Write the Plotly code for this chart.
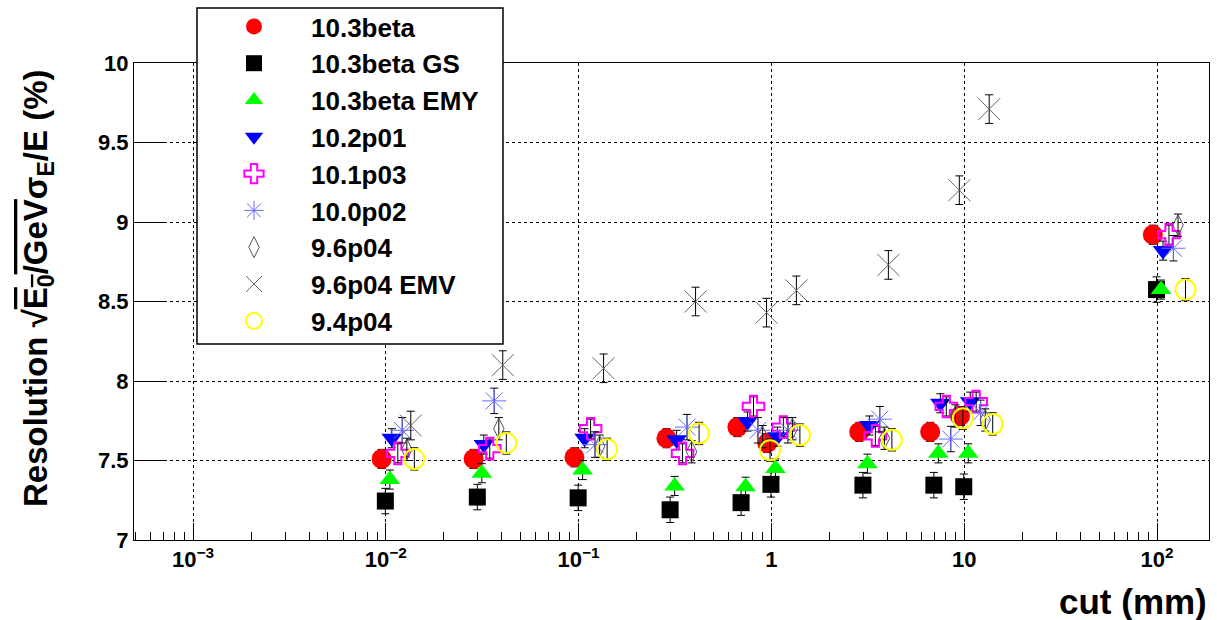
import math
import plotly.graph_objects as go

# ---------------- data ----------------
CUTS = [0.01, 0.03, 0.1, 0.3, 0.7, 1, 3, 7, 10, 100]
CUTS_EMV = [0.01, 0.03, 0.1, 0.3, 0.7, 1, 3, 7, 10]

SERIES_NAMES = ["10.3beta", "10.3beta GS", "10.3beta EMY", "10.2p01", "10.1p03",
                "10.0p02", "9.6p04", "9.6p04 EMV", "9.4p04"]

# horizontal display offsets (multiplicative) used in the original to separate series
X_SHIFT = [0.951, 0.994, 1.049, 1.074, 1.153, 1.216, 1.285, 1.347, 1.405]

res_103beta     = [7.51, 7.51, 7.52, 7.64, 7.71, 7.61, 7.68, 7.68, 7.78, 8.92]
res_103beta_GS  = [7.245, 7.27, 7.265, 7.19, 7.235, 7.35, 7.345, 7.345, 7.335, 8.575]
res_103beta_EMY = [7.38, 7.42, 7.44, 7.34, 7.335, 7.45, 7.48, 7.545, 7.545, 8.575]
res_102p01      = [7.64, 7.60, 7.64, 7.63, 7.745, 7.65, 7.72, 7.86, 7.87, 8.82]
res_101p03      = [7.545, 7.575, 7.70, 7.545, 7.84, 7.71, 7.655, 7.84, 7.87, 8.92]
res_100p02      = [7.69, 7.875, 7.60, 7.71, 7.69, 7.69, 7.76, 7.635, 7.80, 8.835]
res_96p04       = [7.57, 7.70, 7.59, 7.555, 7.65, 7.70, 7.64, 7.78, 7.755, 8.98]
res_96p04_EMV   = [7.72, 8.10, 8.08, 8.50, 8.43, 8.57, 8.73, 9.20, 9.71]
res_94p04       = [7.51, 7.61, 7.57, 7.67, 7.565, 7.66, 7.63, 7.765, 7.73, 8.575]

err_103beta     = [0.06, 0.06, 0.06, 0.06, 0.06, 0.06, 0.06, 0.06, 0.06, 0.06]
err_103beta_GS  = [0.08, 0.08, 0.08, 0.08, 0.08, 0.08, 0.08, 0.08, 0.08, 0.08]
err_103beta_EMY = [0.06, 0.06, 0.06, 0.06, 0.06, 0.06, 0.06, 0.06, 0.06, 0.06]
err_102p01      = [0.06, 0.06, 0.06, 0.06, 0.06, 0.06, 0.06, 0.06, 0.06, 0.06]
err_101p03      = [0.06, 0.06, 0.06, 0.06, 0.06, 0.06, 0.06, 0.06, 0.06, 0.06]
err_100p02      = [0.08, 0.08, 0.08, 0.08, 0.08, 0.08, 0.08, 0.08, 0.08, 0.08]
err_96p04       = [0.07, 0.07, 0.07, 0.07, 0.07, 0.07, 0.07, 0.07, 0.07, 0.07]
err_96p04_EMV   = [0.09, 0.09, 0.09, 0.09, 0.09, 0.09, 0.09, 0.09, 0.09]
err_94p04       = [0.07, 0.07, 0.07, 0.07, 0.07, 0.07, 0.07, 0.07, 0.07, 0.07]

X_TICKVALS = [1e-3, 1e-2, 1e-1, 1, 10, 100]
X_TICKTEXT = ["10<sup>\u22123</sup>", "10<sup>\u22122</sup>", "10<sup>\u22121</sup>", "1", "10", "10<sup>2</sup>"]
Y_TICKVALS = [7, 7.5, 8, 8.5, 9, 9.5, 10]
Y_TICKTEXT = ["7", "7.5", "8", "8.5", "9", "9.5", "10"]

# ---------------- styles ----------------
STYLES = [
    dict(symbol="circle", color="#ff0000", size=20, lw=0),
    dict(symbol="square", color="#000000", size=17, lw=0),
    dict(symbol="triangle-up", color="#00ff00", size=18, lw=0),
    dict(symbol="triangle-down", color="#0000ff", size=18, lw=0),
    dict(symbol="cross-open", color="#ff00ff", size=18, lw=2),
    dict(symbol="asterisk-open", color="#6a6aff", size=20, lw=1),
    dict(symbol="diamond-tall-open", color="#555555", size=15, lw=1),
    dict(symbol="x-thin-open", color="#666666", size=22, lw=1),
    dict(symbol="circle-open", color="#ffff00", size=20, lw=2),
]

ALL_Y = [res_103beta, res_103beta_GS, res_103beta_EMY, res_102p01, res_101p03,
         res_100p02, res_96p04, res_96p04_EMV, res_94p04]
ALL_E = [err_103beta, err_103beta_GS, err_103beta_EMY, err_102p01, err_101p03,
         err_100p02, err_96p04, err_96p04_EMV, err_94p04]
ALL_X = [CUTS, CUTS, CUTS, CUTS, CUTS, CUTS, CUTS, CUTS_EMV, CUTS]

FONT = "Liberation Sans, Arial, Helvetica, sans-serif"

fig = go.Figure()
for name, xs, ys, es, st, sh in zip(SERIES_NAMES, ALL_X, ALL_Y, ALL_E, STYLES, X_SHIFT):
    fig.add_trace(go.Scatter(
        x=[c * sh for c in xs], y=ys, name=name, mode="markers",
        marker=dict(symbol=st["symbol"], color=st["color"], size=st["size"],
                    line=dict(width=st["lw"], color=st["color"])),
        error_y=dict(type="data", array=es, visible=True, color="black",
                     thickness=1, width=4),
    ))

# geometry of the frame in pixels
W, H = 1217, 620
L, R, T, B = 134, 8, 63, 80
pw, ph = W - L - R, H - T - B

def px_x(p):
    return (p - L) / pw

def px_y(p):
    return (H - B - p) / ph

minor_vals = [m * 10 ** e for e in range(-4, 3) for m in range(2, 10)]

fig.update_layout(
    width=W, height=H,
    margin=dict(l=L, r=R, t=T, b=B, pad=0, autoexpand=False),
    paper_bgcolor="white", plot_bgcolor="white",
    font=dict(family=FONT, size=22, color="black", weight="bold"),
    showlegend=True,
    legend=dict(
        x=px_x(197), y=px_y(3), xanchor="left", yanchor="top",
        bgcolor="rgba(0,0,0,0)", borderwidth=0,
        font=dict(family=FONT, size=26, color="black", weight="bold"),
        itemwidth=104, itemsizing="trace", tracegroupgap=0,
        maxheight=600,
    ),
    xaxis=dict(
        type="log", range=[math.log10(4.94e-4), math.log10(186)],
        tickmode="array", tickvals=X_TICKVALS, ticktext=X_TICKTEXT,
        ticks="inside", ticklen=17, tickwidth=1, tickcolor="black",
        showline=True, linecolor="black", linewidth=1, mirror=True,
        showgrid=True, gridcolor="black", griddash="dot", gridwidth=1,
        zeroline=False,
        minor=dict(tickmode="array", tickvals=minor_vals, ticks="inside",
                   ticklen=8, tickwidth=1, tickcolor="black", showgrid=False),
        tickfont=dict(family=FONT, size=22, color="black", weight="bold"),
    ),
    yaxis=dict(
        range=[7, 10],
        tickmode="array", tickvals=Y_TICKVALS, ticktext=Y_TICKTEXT,
        ticks="inside", ticklen=30, tickwidth=1, tickcolor="black",
        showline=True, linecolor="black", linewidth=1, mirror=True,
        showgrid=True, gridcolor="black", griddash="dot", gridwidth=1,
        zeroline=False,
        tickfont=dict(family=FONT, size=22, color="black", weight="bold"),
    ),
    shapes=[dict(type="rect", xref="paper", yref="paper",
                 x0=px_x(197), x1=px_x(503), y0=px_y(344), y1=px_y(8),
                 line=dict(color="black", width=1.5), fillcolor="white",
                 layer="above")],
    annotations=[
        dict(text="cut (mm)", xref="paper", yref="paper",
             x=px_x(1209), y=px_y(601), xanchor="right", yanchor="middle",
             showarrow=False, font=dict(family=FONT, size=35, weight="bold")),
        dict(text="Resolution \u221a<span style=\"text-decoration:overline\">E<sub>0</sub>/GeV</span>\u03c3<sub>E</sub>/E (%)",
             xref="paper", yref="paper", x=px_x(38), y=px_y(288),
             xanchor="center", yanchor="middle", textangle=-90,
             showarrow=False, font=dict(family=FONT, size=33, weight="bold")),
    ],
)

fig.write_html("out.html", config={"displayModeBar": False},
               post_script="document.body.style.margin='0';document.body.style.overflow='hidden';")
